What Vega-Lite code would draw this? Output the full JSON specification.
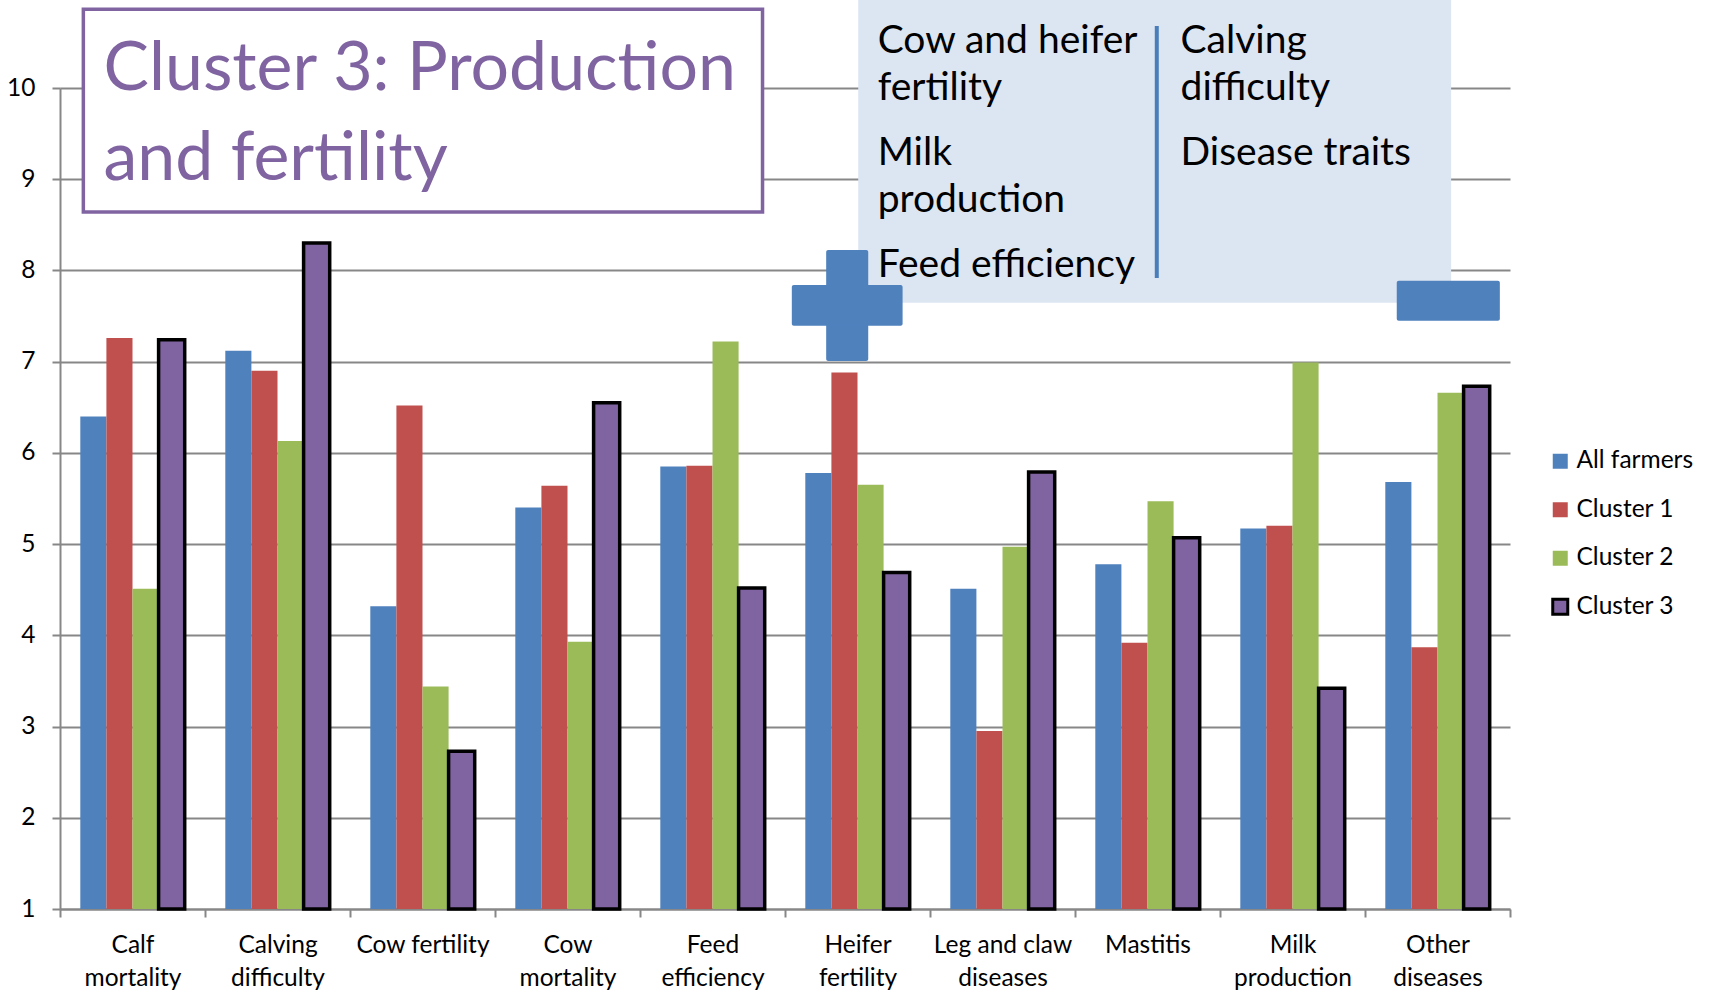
{
  "$schema": "https://vega.github.io/schema/vega-lite/v6.json",
  "width": 1450,
  "height": 821,
  "autosize": {"type": "none"},
  "padding": {"left": 60, "top": 88, "right": 199, "bottom": 81},
  "background": "white",
  "config": {
    "font": "Lato",
    "view": {"stroke": null},
    "axis": {
      "domainColor": "#878787",
      "domainWidth": 2,
      "tickColor": "#878787",
      "tickWidth": 2,
      "gridColor": "#878787",
      "gridWidth": 2,
      "labelColor": "#000000",
      "labelFont": "Lato",
      "labelFontSize": 24.5,
      "title": null
    }
  },
  "datasets": {
    "scores": [
      {"trait": "Calf mortality", "series": "All farmers", "score": 6.40},
      {"trait": "Calf mortality", "series": "Cluster 1", "score": 7.26},
      {"trait": "Calf mortality", "series": "Cluster 2", "score": 4.51},
      {"trait": "Calf mortality", "series": "Cluster 3", "score": 7.24},
      {"trait": "Calving difficulty", "series": "All farmers", "score": 7.12},
      {"trait": "Calving difficulty", "series": "Cluster 1", "score": 6.90},
      {"trait": "Calving difficulty", "series": "Cluster 2", "score": 6.13},
      {"trait": "Calving difficulty", "series": "Cluster 3", "score": 8.30},
      {"trait": "Cow fertility", "series": "All farmers", "score": 4.32},
      {"trait": "Cow fertility", "series": "Cluster 1", "score": 6.52},
      {"trait": "Cow fertility", "series": "Cluster 2", "score": 3.44},
      {"trait": "Cow fertility", "series": "Cluster 3", "score": 2.73},
      {"trait": "Cow mortality", "series": "All farmers", "score": 5.40},
      {"trait": "Cow mortality", "series": "Cluster 1", "score": 5.64},
      {"trait": "Cow mortality", "series": "Cluster 2", "score": 3.93},
      {"trait": "Cow mortality", "series": "Cluster 3", "score": 6.55},
      {"trait": "Feed efficiency", "series": "All farmers", "score": 5.85},
      {"trait": "Feed efficiency", "series": "Cluster 1", "score": 5.86},
      {"trait": "Feed efficiency", "series": "Cluster 2", "score": 7.22},
      {"trait": "Feed efficiency", "series": "Cluster 3", "score": 4.52},
      {"trait": "Heifer fertility", "series": "All farmers", "score": 5.78},
      {"trait": "Heifer fertility", "series": "Cluster 1", "score": 6.88},
      {"trait": "Heifer fertility", "series": "Cluster 2", "score": 5.65},
      {"trait": "Heifer fertility", "series": "Cluster 3", "score": 4.69},
      {"trait": "Leg and claw diseases", "series": "All farmers", "score": 4.51},
      {"trait": "Leg and claw diseases", "series": "Cluster 1", "score": 2.95},
      {"trait": "Leg and claw diseases", "series": "Cluster 2", "score": 4.97},
      {"trait": "Leg and claw diseases", "series": "Cluster 3", "score": 5.79},
      {"trait": "Mastitis", "series": "All farmers", "score": 4.78},
      {"trait": "Mastitis", "series": "Cluster 1", "score": 3.92},
      {"trait": "Mastitis", "series": "Cluster 2", "score": 5.47},
      {"trait": "Mastitis", "series": "Cluster 3", "score": 5.07},
      {"trait": "Milk production", "series": "All farmers", "score": 5.17},
      {"trait": "Milk production", "series": "Cluster 1", "score": 5.20},
      {"trait": "Milk production", "series": "Cluster 2", "score": 6.99},
      {"trait": "Milk production", "series": "Cluster 3", "score": 3.42},
      {"trait": "Other diseases", "series": "All farmers", "score": 5.68},
      {"trait": "Other diseases", "series": "Cluster 1", "score": 3.87},
      {"trait": "Other diseases", "series": "Cluster 2", "score": 6.66},
      {"trait": "Other diseases", "series": "Cluster 3", "score": 6.73}
    ]
  },
  "layer": [
    {
      "data": {"name": "scores"},
      "mark": {"type": "bar", "strokeWidth": 3.5},
      "encoding": {
        "x": {
          "field": "trait",
          "type": "nominal",
          "sort": null,
          "scale": {"paddingInner": 0, "paddingOuter": 0},
          "axis": {
            "labelAngle": 0,
            "tickBand": "extent",
            "tickSize": 8,
            "labelPadding": 16,
            "labelBaseline": "top",
            "labelLineHeight": 33,
            "labelExpr": "!isValid(datum.value) ? '' : datum.value == 'Leg and claw diseases' ? ['Leg and claw', 'diseases'] : datum.value == 'Cow fertility' ? datum.value : split(datum.value, ' ')"
          }
        },
        "xOffset": {
          "field": "series",
          "type": "nominal",
          "sort": ["All farmers", "Cluster 1", "Cluster 2", "Cluster 3"],
          "scale": {"paddingInner": 0, "paddingOuter": 0.778}
        },
        "y": {
          "field": "score",
          "type": "quantitative",
          "scale": {"domain": [1, 10], "nice": false, "zero": false},
          "axis": {
            "values": [1, 2, 3, 4, 5, 6, 7, 8, 9, 10],
            "format": "d",
            "grid": true,
            "tickSize": 8,
            "labelPadding": 17
          }
        },
        "y2": {"datum": 1},
        "color": {
          "field": "series",
          "type": "nominal",
          "scale": {
            "domain": ["All farmers", "Cluster 1", "Cluster 2", "Cluster 3"],
            "range": ["#4F81BD", "#C0504D", "#9BBB59", "#8064A2"]
          },
          "legend": {
            "title": null,
            "orient": "none",
            "legendX": 1488,
            "legendY": 361,
            "symbolType": "square",
            "symbolSize": 225,
            "symbolStrokeWidth": 3,
            "labelFontSize": 24.5,
            "labelColor": "#000000",
            "labelOffset": 4,
            "rowPadding": 20.5
          }
        },
        "stroke": {
          "field": "series",
          "type": "nominal",
          "scale": {
            "domain": ["All farmers", "Cluster 1", "Cluster 2", "Cluster 3"],
            "range": ["transparent", "transparent", "transparent", "#000000"]
          },
          "legend": {
            "title": null,
            "orient": "none",
            "legendX": 1488,
            "legendY": 361,
            "symbolType": "square",
            "symbolSize": 225,
            "symbolStrokeWidth": 3,
            "labelFontSize": 24.5,
            "labelColor": "#000000",
            "labelOffset": 4,
            "rowPadding": 20.5
          }
        }
      }
    },
    {
      "data": {"values": [{}]},
      "layer": [
        {
          "mark": {"type": "rect", "fill": "#FFFFFF", "stroke": "#8064A2", "strokeWidth": 3.5},
          "encoding": {
            "x": {"datum": 0.161, "type": "quantitative", "scale": {"domain": [0, 10], "nice": false, "zero": false}, "axis": null},
            "x2": {"datum": 4.845},
            "y": {"datum": 10.863, "type": "quantitative"},
            "y2": {"datum": 8.64}
          }
        },
        {
          "mark": {"type": "text", "text": "Cluster 3: Production\nand fertility", "lineBreak": "\n", "lineHeight": 90, "align": "left", "baseline": "alphabetic", "fontSize": 68, "color": "#8064A2", "font": "Lato"},
          "encoding": {
            "x": {"datum": 0.3, "type": "quantitative"},
            "y": {"datum": 9.978, "type": "quantitative"}
          }
        },
        {
          "mark": {"type": "rect", "fill": "#DCE6F2"},
          "encoding": {
            "x": {"datum": 5.505, "type": "quantitative"},
            "x2": {"datum": 9.594},
            "y": {"datum": 11.0, "type": "quantitative"},
            "y2": {"datum": 7.646}
          }
        },
        {
          "mark": {"type": "rule", "stroke": "#4A7EBB", "strokeWidth": 4},
          "encoding": {
            "x": {"datum": 7.564, "type": "quantitative"},
            "y": {"datum": 10.68, "type": "quantitative"},
            "y2": {"datum": 7.917}
          }
        },
        {
          "mark": {"type": "text", "text": "Cow and heifer\nfertility", "lineBreak": "\n", "lineHeight": 46.7, "align": "left", "baseline": "alphabetic", "fontSize": 39, "color": "#000000", "font": "Lato"},
          "encoding": {
            "x": {"datum": 5.639, "type": "quantitative"},
            "y": {"datum": 10.38, "type": "quantitative"}
          }
        },
        {
          "mark": {"type": "text", "text": "Milk\nproduction", "lineBreak": "\n", "lineHeight": 46.7, "align": "left", "baseline": "alphabetic", "fontSize": 39, "color": "#000000", "font": "Lato"},
          "encoding": {
            "x": {"datum": 5.639, "type": "quantitative"},
            "y": {"datum": 9.156, "type": "quantitative"}
          }
        },
        {
          "mark": {"type": "text", "text": "Feed efficiency", "align": "left", "baseline": "alphabetic", "fontSize": 39, "color": "#000000", "font": "Lato"},
          "encoding": {
            "x": {"datum": 5.639, "type": "quantitative"},
            "y": {"datum": 7.931, "type": "quantitative"}
          }
        },
        {
          "mark": {"type": "text", "text": "Calving\ndifficulty", "lineBreak": "\n", "lineHeight": 46.7, "align": "left", "baseline": "alphabetic", "fontSize": 39, "color": "#000000", "font": "Lato"},
          "encoding": {
            "x": {"datum": 7.728, "type": "quantitative"},
            "y": {"datum": 10.38, "type": "quantitative"}
          }
        },
        {
          "mark": {"type": "text", "text": "Disease traits", "align": "left", "baseline": "alphabetic", "fontSize": 39, "color": "#000000", "font": "Lato"},
          "encoding": {
            "x": {"datum": 7.728, "type": "quantitative"},
            "y": {"datum": 9.156, "type": "quantitative"}
          }
        },
        {
          "mark": {"type": "rect", "fill": "#4F81BD", "cornerRadius": 2},
          "encoding": {
            "x": {"datum": 5.284, "type": "quantitative"},
            "x2": {"datum": 5.574},
            "y": {"datum": 8.224, "type": "quantitative"},
            "y2": {"datum": 7.007}
          }
        },
        {
          "mark": {"type": "rect", "fill": "#4F81BD", "cornerRadius": 2},
          "encoding": {
            "x": {"datum": 5.047, "type": "quantitative"},
            "x2": {"datum": 5.811},
            "y": {"datum": 7.84, "type": "quantitative"},
            "y2": {"datum": 7.394}
          }
        },
        {
          "mark": {"type": "rect", "fill": "#4F81BD", "cornerRadius": 2},
          "encoding": {
            "x": {"datum": 9.219, "type": "quantitative"},
            "x2": {"datum": 9.93},
            "y": {"datum": 7.887, "type": "quantitative"},
            "y2": {"datum": 7.449}
          }
        }
      ]
    }
  ],
  "resolve": {"scale": {"x": "independent"}, "axis": {"x": "independent"}}
}
